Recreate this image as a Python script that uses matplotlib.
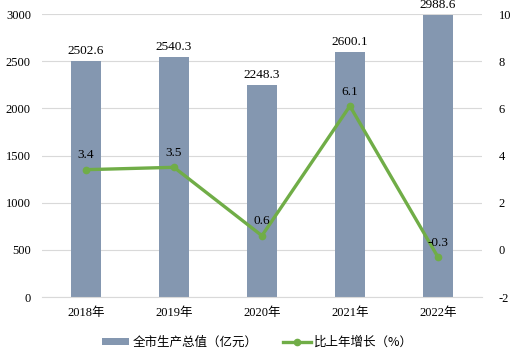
import numpy as np
import matplotlib.pyplot as plt

plt.rcParams['font.family'] = ['Liberation Serif', 'Noto Sans CJK SC']
plt.rcParams['axes.unicode_minus'] = False

years = ['2018年', '2019年', '2020年', '2021年', '2022年']
gdp = [2502.6, 2540.3, 2248.3, 2600.1, 2988.6]
growth = [3.4, 3.5, 0.6, 6.1, -0.3]

bar_color = '#8497B0'
line_color = '#70AD47'
grid_color = '#D9D9D9'

fig = plt.figure(figsize=(5.15, 3.6), dpi=100)
ax = fig.add_axes([0.0816, 0.175, 0.854, 0.786])
ax2 = ax.twinx()

x = np.arange(len(years))
bars = ax.bar(x, gdp, width=0.34, color=bar_color, zorder=2)
ax.set_ylim(0, 3000)
ax.set_yticks(range(0, 3001, 500))
ax.set_xlim(-0.5, len(years) - 0.5)
ax.set_xticks(x)
ax.set_xticklabels(years, fontsize=9)
ax.yaxis.grid(True, color=grid_color, lw=0.8, zorder=0)
ax.set_axisbelow(True)
for s in ['top', 'left', 'right']:
    ax.spines[s].set_visible(False)
ax.spines['bottom'].set_color(grid_color)
ax.tick_params(axis='both', length=0, labelsize=9, pad=7)
ax.tick_params(axis='y', pad=8)
for xi, v in zip(x, gdp):
    ax.annotate(f'{v:.1f}', (xi, v), xytext=(0, 3), textcoords='offset points',
                ha='center', va='bottom', fontsize=9.5)

ln, = ax2.plot(x, growth, color=line_color, lw=2.4, marker='o', ms=4.5, zorder=3)
ax2.set_ylim(-2, 10)
ax2.set_yticks(range(-2, 11, 2))
for s in ['top', 'left', 'right', 'bottom']:
    ax2.spines[s].set_visible(False)
ax2.tick_params(axis='y', length=0, labelsize=9, pad=12)
for xi, v in zip(x, growth):
    ax2.annotate(f'{v:.1f}', (xi, v), xytext=(0, 6), textcoords='offset points',
                 ha='center', va='bottom', fontsize=9.5)

fig.legend([bars, ln], ['全市生产总值（亿元）', '比上年增长（%）'], loc='lower center',
           bbox_to_anchor=(0.5, 0.0), ncol=2, frameon=False,
           handlelength=2.2, handletextpad=0.3, columnspacing=2.0, handleheight=0.5,
           prop={'family': ['Noto Sans CJK SC'], 'size': 9})

fig.savefig('out.png', dpi=100)
